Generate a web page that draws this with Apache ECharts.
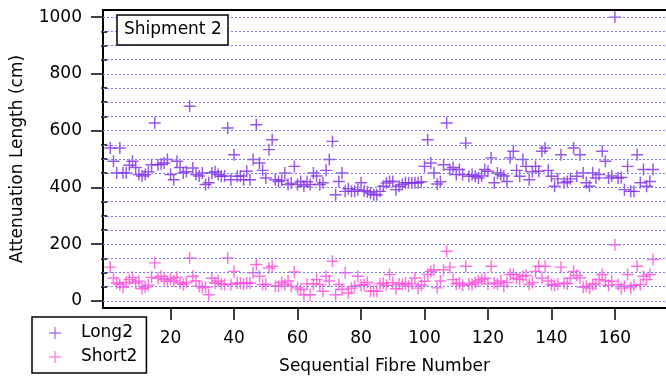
<!DOCTYPE html>
<html>
<head>
<meta charset="utf-8">
<script src="https://cdn.jsdelivr.net/npm/echarts@6/dist/echarts.min.js"></script>
<style>html,body{margin:0;padding:0;background:#fff}#c{width:666px;height:382px}</style>
</head>
<body>
<div id="c"></div>
<script>
// Sequential fibre numbers 1..172
const long2 = [
539,492,451,539,451,451,478,492,470,445,
440,445,455,480,627,480,482,486,498,445,
427,492,470,451,455,686,468,445,440,451,
410,416,451,455,445,439,440,609,427,515,
439,440,427,457,427,498,621,486,460,433,
533,568,427,421,425,451,410,415,474,410,
421,404,420,410,451,440,410,416,460,498,
562,374,421,451,386,395,386,386,392,416,
388,385,380,374,374,386,404,415,421,421,
392,404,410,416,416,416,416,416,420,474,
568,486,451,412,420,480,627,463,470,445,
463,445,556,439,445,439,433,440,463,457,
504,416,451,445,440,421,504,527,460,439,
498,474,427,455,474,457,527,539,460,439,
404,430,515,416,421,430,539,439,515,451,
416,404,451,433,445,527,492,433,440,1000,
433,435,392,474,386,386,515,416,463,404,
421,463
];
const short2 = [
119,81,63,58,48,65,75,83,63,69,
43,48,55,83,134,80,87,75,69,78,
70,83,63,58,65,151,87,70,52,46,
48,22,80,63,70,60,58,151,58,104,
63,63,60,63,63,99,128,87,58,58,
116,122,52,52,65,58,70,52,102,46,
40,22,60,22,60,75,58,34,87,70,
140,22,58,40,99,28,45,52,87,55,
58,65,34,34,34,60,62,55,93,65,
43,60,58,62,52,60,81,45,55,69,
93,104,110,46,70,110,175,119,75,60,
63,55,122,60,58,65,70,75,80,60,
122,63,60,70,52,65,93,93,80,75,
87,90,58,65,104,122,80,122,70,58,
55,60,119,63,60,80,104,90,81,48,
52,45,58,60,75,93,70,55,69,198,
58,45,52,93,46,55,122,58,87,75,
93,146
];
const xTicks = [20, 40, 60, 80, 100, 120, 140, 160];
const yMajorTicks = [0, 200, 400, 600, 800, 1000];
const yMinorTicks = [50,100,150,250,300,350,450,500,550,650,700,750,850,900,950];
const gridValues = [0,50,100,150,200,250,300,350,400,450,500,550,600,650,700,750,800,850,900,950,1000];

const FONT = 'DejaVu Sans';
const PLUS = 'path://M4.4,0H5.6V4.4H10V5.6H5.6V10H4.4V5.6H0V4.4H4.4Z';
const toPts = arr => arr.map((v, i) => [i + 1, v]);

const chart = echarts.init(document.getElementById('c'), null, {renderer: 'canvas'});
chart.setOption({
  animation: false,
  backgroundColor: '#fff',
  title: {
    text: 'Shipment 2',
    left: 117, top: 15,
    borderColor: '#000', borderWidth: 1.5,
    backgroundColor: '#fff',
    padding: [5, 6, 5, 7],
    textStyle: {fontFamily: FONT, fontSize: 17, fontWeight: 'normal', color: '#000', lineHeight: 20}
  },
  legend: {
    orient: 'vertical',
    left: 32, top: 317,
    borderColor: '#000', borderWidth: 1.5,
    padding: [7, 9, 7, 17],
    itemWidth: 12, itemHeight: 12, itemGap: 6,
    textStyle: {fontFamily: FONT, fontSize: 17, color: '#000', lineHeight: 18, padding: [0, 0, 0, 15]},
    data: [
      {name: 'Long2', icon: PLUS, itemStyle: {color: '#9a62ee'}},
      {name: 'Short2', icon: PLUS, itemStyle: {color: '#ff72e2'}}
    ]
  },
  grid: {left: 103, right: -11, top: 10, bottom: 74, containLabel: false},
  xAxis: [{
    type: 'value', min: -1.3, max: 176.1, position: 'bottom',
    name: 'Sequential Fibre Number', nameLocation: 'middle', nameGap: 50,
    nameTextStyle: {fontFamily: FONT, fontSize: 17, color: '#000'},
    axisLine: {show: true, onZero: false, lineStyle: {color: '#000', width: 2}},
    axisTick: {show: true, inside: false, length: 12, customValues: xTicks, lineStyle: {color: '#000', width: 1.5}},
    axisLabel: {show: true, margin: 22, customValues: xTicks, fontFamily: FONT, fontSize: 17, color: '#000',
      formatter: v => String(v)},
    splitLine: {show: false}
  }, {
    type: 'value', min: -1.3, max: 176.1, position: 'top',
    axisLine: {show: true, onZero: false, lineStyle: {color: '#000', width: 2}},
    axisTick: {show: false}, axisLabel: {show: false}, splitLine: {show: false}
  }],
  yAxis: [{
    type: 'value', min: -25, max: 1025, position: 'left',
    name: 'Attenuation Length (cm)', nameLocation: 'middle', nameGap: 77,
    nameTextStyle: {fontFamily: FONT, fontSize: 17, color: '#000'},
    axisLine: {show: true, onZero: false, lineStyle: {color: '#000', width: 2}},
    axisTick: {show: true, inside: false, length: 12, customValues: yMajorTicks, lineStyle: {color: '#000', width: 1.5}},
    axisLabel: {show: true, margin: 21, customValues: yMajorTicks, fontFamily: FONT, fontSize: 17, color: '#000',
      formatter: v => String(v)},
    splitLine: {show: false}
  }, {
    type: 'value', min: -25, max: 1025, position: 'left', offset: 0,
    axisLine: {show: false},
    axisTick: {show: true, inside: false, length: 6, customValues: yMinorTicks, lineStyle: {color: '#000', width: 1.5}},
    axisLabel: {show: false}, splitLine: {show: false}
  }],
  series: [{
    name: 'grid', type: 'scatter', data: [], z: 1, silent: true,
    markLine: {
      silent: true, symbol: 'none', animation: false,
      label: {show: false},
      lineStyle: {type: [2, 2], color: '#7a7aff', width: 1},
      data: gridValues.map(v => ({yAxis: v}))
    }
  }, {
    name: 'Short2', type: 'scatter', data: toPts(short2),
    symbol: PLUS, symbolSize: 12,
    itemStyle: {color: '#ff4fda', opacity: 0.82}
  }, {
    name: 'Long2', type: 'scatter', data: toPts(long2),
    symbol: PLUS, symbolSize: 12,
    itemStyle: {color: '#8030e6', opacity: 0.82}
  }]
});
</script>
</body>
</html>
